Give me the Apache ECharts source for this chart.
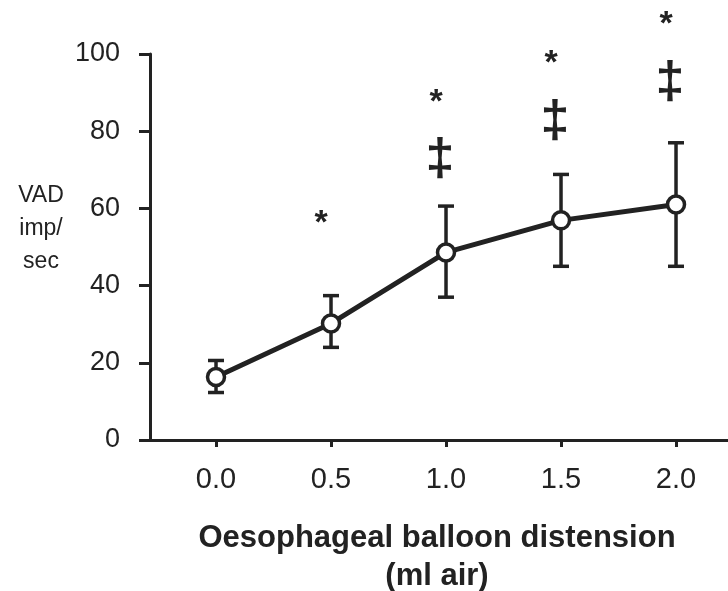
<!DOCTYPE html>
<html><head><meta charset="utf-8">
<script src="https://cdn.jsdelivr.net/npm/echarts@6/dist/echarts.min.js"></script>
<style>html,body{margin:0;padding:0;background:#fff}#c{width:728px;height:591px}</style>
</head><body><div id="c"></div>
<script>
// Data
const distension = [0.0, 0.5, 1.0, 1.5, 2.0];
const tickLabels = ['0.0', '0.5', '1.0', '1.5', '2.0'];
const vadMean  = [16.3, 30.2, 48.6, 56.9, 61.0];
const vadUpper = [20.6, 37.4, 60.6, 68.8, 77.0];
const vadLower = [12.3, 24.0, 37.0, 45.0, 45.0];
const starX = [0.5, 1.0, 1.5, 2.0];
const starY = [57.4, 88.8, 98.7, 109.0];
const daggerX = [1.0, 1.5, 2.0];
const daggerY = [73.2, 82.9, 93.2];

const INK = '#222';
const FONT = '"Liberation Sans", Arial, Helvetica, sans-serif';

const chart = echarts.init(document.getElementById('c'), null, {renderer: 'canvas'});

const meanData = distension.map((x, i) => [x, vadMean[i]]);
const errData = distension.map((x, i) => [x, vadLower[i], vadUpper[i]]);
const starData = starX.map((x, i) => [x, starY[i]]);
const daggerData = daggerX.map((x, i) => [x, daggerY[i]]);

function textSeries(data, glyph, font, dx, dy) {
  return {
    type: 'custom',
    data: data,
    z: 5,
    silent: true,
    renderItem: function (params, api) {
      const p = api.coord([api.value(0), api.value(1)]);
      return {
        type: 'text',
        style: {
          x: p[0] + dx, y: p[1] + dy,
          text: glyph, font: font, fill: INK,
          align: 'center', verticalAlign: 'middle'
        }
      };
    }
  };
}

chart.setOption({
  animation: false,
  backgroundColor: '#fff',
  grid: {left: 150, right: 0, top: 54, bottom: 151, containLabel: false},
  xAxis: {
    type: 'value',
    min: -0.287, max: 2.226,
    axisLine: {show: true, onZero: false, lineStyle: {color: INK, width: 3}},
    axisTick: {show: true, customValues: distension, length: 7, lineStyle: {color: INK, width: 3}},
    axisLabel: {
      customValues: distension,
      formatter: v => tickLabels[distension.indexOf(v)] !== undefined ? tickLabels[distension.indexOf(v)] : v.toFixed(1),
      color: INK, fontSize: 29, fontFamily: FONT, margin: 25
    },
    splitLine: {show: false}
  },
  yAxis: {
    type: 'value',
    min: 0, max: 100, interval: 20,
    axisLine: {show: true, onZero: false, lineStyle: {color: INK, width: 3}},
    axisTick: {show: true, length: 11, lineStyle: {color: INK, width: 3}},
    axisLabel: {color: INK, fontSize: 27, fontFamily: FONT, margin: 30},
    splitLine: {show: false}
  },
  graphic: [
    {
      type: 'text', x: 41, y: 229,
      style: {
        text: 'VAD\nimp/\nsec', font: '23px ' + FONT, fill: INK,
        align: 'center', verticalAlign: 'middle', lineHeight: 33
      }
    },
    {
      type: 'text', x: 437, y: 557,
      style: {
        text: 'Oesophageal balloon distension\n(ml air)', font: 'bold 31px ' + FONT, fill: INK,
        align: 'center', verticalAlign: 'middle', lineHeight: 38
      }
    }
  ],
  series: [
    {
      type: 'custom',
      data: errData,
      z: 1,
      silent: true,
      renderItem: function (params, api) {
        const x = api.value(0);
        const lo = api.coord([x, api.value(1)]);
        const hi = api.coord([x, api.value(2)]);
        const hw = 8;
        const st = {stroke: INK, lineWidth: 3.5, fill: null};
        return {
          type: 'group',
          children: [
            {type: 'line', shape: {x1: lo[0], y1: lo[1], x2: hi[0], y2: hi[1]}, style: st},
            {type: 'line', shape: {x1: lo[0] - hw, y1: lo[1], x2: lo[0] + hw, y2: lo[1]}, style: st},
            {type: 'line', shape: {x1: hi[0] - hw, y1: hi[1], x2: hi[0] + hw, y2: hi[1]}, style: st}
          ]
        };
      }
    },
    {
      type: 'line',
      data: meanData,
      z: 3,
      symbol: 'circle',
      symbolSize: 17,
      showAllSymbol: true,
      lineStyle: {color: INK, width: 5},
      itemStyle: {color: '#fff', borderColor: INK, borderWidth: 3.5},
      silent: true
    },
    textSeries(starData, '*', 'bold 34px ' + FONT, -10, 5),
    textSeries(daggerData, '\u2021', 'bold 52px ' + FONT, -6, 3)
  ]
});
</script>
</body></html>
